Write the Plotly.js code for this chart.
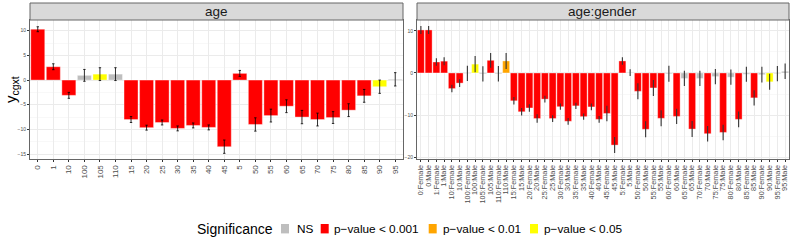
<!DOCTYPE html>
<html><head><meta charset="utf-8">
<script src="https://cdn.plot.ly/plotly-3.0.1.min.js"></script>
<style>html,body{margin:0;padding:0;background:#fff}#chart{width:793px;height:241px}</style>
</head><body><div id="chart"></div>
<script>
// ---- data ----
const ageCats = ['0','1','10','100','105','110','15','20','25','30','35','40','45','5','50','55','60','65','70','75','80','85','90','95'];
const ageVals = [10.3,2.7,-3.1,0.95,1.2,1.2,-8.0,-9.65,-8.6,-9.8,-9.2,-9.6,-13.5,1.35,-9.0,-7.2,-5.3,-7.5,-8.0,-7.6,-6.1,-3.2,-1.35,0.15];
const ageErrs = [0.5,0.6,0.6,1.2,1.3,1.3,0.6,0.5,0.5,0.5,0.5,0.5,1.35,0.6,1.35,1.3,1.3,1.35,1.3,1.2,1.3,1.3,1.35,1.35];
const ageSig  = ['p001','p001','p001','NS','p05','NS','p001','p001','p001','p001','p001','p001','p001','p001','p001','p001','p001','p001','p001','p001','p001','p001','p05','NS'];

const agCats = ['0:Female','0:Male','1:Female','1:Male','10:Female','10:Male','100:Female','100:Male','105:Female','105:Male','110:Female','110:Male',
 '15:Female','15:Male','20:Female','20:Male','25:Female','25:Male','30:Female','30:Male','35:Female','35:Male','40:Female','40:Male','45:Female','45:Male',
 '5:Female','5:Male','50:Female','50:Male','55:Female','55:Male','60:Female','60:Male','65:Female','65:Male','70:Female','70:Male','75:Female','75:Male',
 '80:Female','80:Male','85:Female','85:Male','90:Female','90:Male','95:Female','95:Male'];
const agVals = [10.2,10.2,2.6,2.8,-3.7,-2.4,-0.1,2.1,-0.2,3.0,-0.2,2.85,
 -6.6,-9.2,-8.3,-10.8,-6.2,-10.8,-8.0,-11.45,-7.8,-10.35,-8.05,-11.0,-9.6,-17.1,
 2.85,0.1,-4.35,-13.35,-3.55,-10.75,-0.2,-10.3,-1.3,-13.3,-1.3,-14.4,-0.85,-14.1,
 -1.0,-11.0,-0.3,-5.9,-0.4,-2.1,-0.15,0.4];
const agErrs = [0.95,0.95,0.9,0.95,0.9,0.9,1.8,1.9,1.8,1.75,1.85,1.9,
 0.9,0.9,0.9,1.0,0.8,0.8,0.75,0.8,0.75,0.75,0.8,0.8,1.85,1.9,
 0.9,0.8,1.9,1.9,1.9,1.9,1.9,1.8,1.8,1.9,1.8,1.85,1.8,1.85,
 1.8,1.85,1.8,1.8,1.85,1.9,1.8,1.85];
const agSig = ['p001','p001','p001','p001','p001','p001','NS','p05','NS','p001','NS','p01',
 'p001','p001','p001','p001','p001','p001','p001','p001','p001','p001','p001','p001','p001','p001',
 'p001','NS','p001','p001','p001','p001','NS','p001','NS','p001','NS','p001','NS','p001',
 'NS','p001','NS','p001','NS','p05','NS','NS'];

const sigLevels = ['NS','p001','p01','p05'];
const sigNames = {NS:'NS', p001:'p\u2212value < 0.001', p01:'p\u2212value < 0.01', p05:'p\u2212value < 0.05'};
const sigColors = {NS:'#bebebe', p001:'#ff0000', p01:'#ffa500', p05:'#ffff00'};
const legendTitle = 'Significance';

const traces = [];
function addPanel(cats, vals, errs, sig, xa, ya, errStyle){
  sigLevels.forEach(s=>{
    const idx = cats.map((c,i)=>i).filter(i=>sig[i]===s);
    if(!idx.length) return;
    traces.push({
      type:'bar', name:sigNames[s], legendgroup:s, showlegend:false,
      x: idx.map(i=>cats[i]), y: idx.map(i=>vals[i]),
      xaxis:xa, yaxis:ya,
      marker:{color:sigColors[s], line:{color:'rgba(255,255,255,0.45)', width:0.8}},
      error_y:Object.assign({type:'data', array: idx.map(i=>errs[i]), visible:true}, errStyle),
      hoverinfo:'x+y'
    });
  });
}
addPanel(ageCats, ageVals, ageErrs, ageSig, 'x', 'y', {color:'#000', thickness:0.8, width:1.2});
addPanel(agCats, agVals, agErrs, agSig, 'x2', 'y2', {color:'#333', thickness:1.1, width:0});

const W=793, H=241;
const pyTop = 20, pyBot = 159;
const yDom = [1-pyBot/H, 1-pyTop/H];
const gridC = '#ebebeb';
const FONT = 'Liberation Sans, Arial, sans-serif';
const tickFont = {family:FONT, size:5, color:'#4d4d4d'};

function xAxis(dom, cats, size){
  return {domain:dom, type:'category', categoryorder:'array', categoryarray:cats,
    tickmode:'linear', tick0:0, dtick:1,
    tickangle:-90, tickfont:{family:FONT, size:size, color:'#4d4d4d'},
    showgrid:true, gridcolor:gridC, gridwidth:1, ticks:'outside', ticklen:2, tickcolor:'#333',
    showline:true, mirror:true, linecolor:'#666', linewidth:1, zeroline:false, automargin:false, fixedrange:true};
}
function yAxis(range, dtick, minor, anchor){
  return {domain:yDom, range:range, dtick:dtick, tick0:0, anchor:anchor,
    tickfont:tickFont, ticks:'outside', ticklen:2, tickcolor:'#333',
    showgrid:true, gridcolor:gridC, gridwidth:1,
    minor:{dtick:minor, tick0:0, showgrid:true, gridcolor:'#f4f4f4', gridwidth:0.6},
    showline:true, mirror:true, linecolor:'#666', linewidth:1, zeroline:false, automargin:false, fixedrange:true};
}

const lx0 = 30/W, lx1 = 403/W, rx0 = 417/W, rx1 = 789/W;

// manual legend (positions in px)
const legY = 228.7;
const legBoxX = [281, 320.7, 428.7, 530];
const legTextX = [296.7, 334, 443.3, 544.3];
const shapes = [
  {type:'rect', xref:'paper', yref:'paper', x0:lx0, x1:lx1, y0:1-pyTop/H, y1:1-3/H, fillcolor:'#d9d9d9', line:{color:'#666', width:1}},
  {type:'rect', xref:'paper', yref:'paper', x0:rx0, x1:rx1, y0:1-pyTop/H, y1:1-3/H, fillcolor:'#d9d9d9', line:{color:'#666', width:1}}
];
const annotations = [
  {text:'age', xref:'paper', yref:'paper', x:(lx0+lx1)/2, y:1-11.5/H, showarrow:false, font:{family:FONT, size:13.5, color:'#1a1a1a'}, xanchor:'center', yanchor:'middle'},
  {text:'age:gender', xref:'paper', yref:'paper', x:(rx0+rx1)/2, y:1-11.5/H, showarrow:false, font:{family:FONT, size:13.5, color:'#1a1a1a'}, xanchor:'center', yanchor:'middle'},
  {text:'y<sub>cgxt</sub>', xref:'paper', yref:'paper', x:11/W, y:1-90/H, showarrow:false, textangle:-90, font:{family:FONT, size:15, color:'#000'}, xanchor:'center', yanchor:'middle'},
  {text:legendTitle, xref:'paper', yref:'paper', x:(196.7-2)/W, y:1-legY/H, showarrow:false, font:{family:FONT, size:14, color:'#000'}, xanchor:'left', yanchor:'middle'}
];
sigLevels.forEach((s,k)=>{
  shapes.push({type:'rect', xref:'paper', yref:'paper', x0:legBoxX[k]/W, x1:(legBoxX[k]+8)/W,
    y0:1-(legY+4.7)/H, y1:1-(legY-4.7)/H, fillcolor:sigColors[s], line:{width:0}});
  annotations.push({text:sigNames[s], xref:'paper', yref:'paper', x:(legTextX[k]-2)/W, y:1-legY/H,
    showarrow:false, font:{family:FONT, size:11.8, color:'#000'}, xanchor:'left', yanchor:'middle'});
});

const layout = {
  width:W, height:H, margin:{l:0,r:0,t:0,b:0},
  paper_bgcolor:'#fff', plot_bgcolor:'#fff',
  barmode:'overlay', bargap:0.1,
  font:{family:FONT},
  xaxis: xAxis([lx0,lx1], ageCats, 8),
  yaxis: yAxis([-16.0, 12.17], 5, 2.5, 'x'),
  xaxis2: Object.assign(xAxis([rx0,rx1], agCats, 7.3), {anchor:'y2'}),
  yaxis2: yAxis([-20.4, 12.56], 10, 5, 'x2'),
  shapes: shapes,
  annotations: annotations,
  showlegend:false
};

Plotly.newPlot('chart', traces, layout, {displayModeBar:false, staticPlot:true});
</script></body></html>
